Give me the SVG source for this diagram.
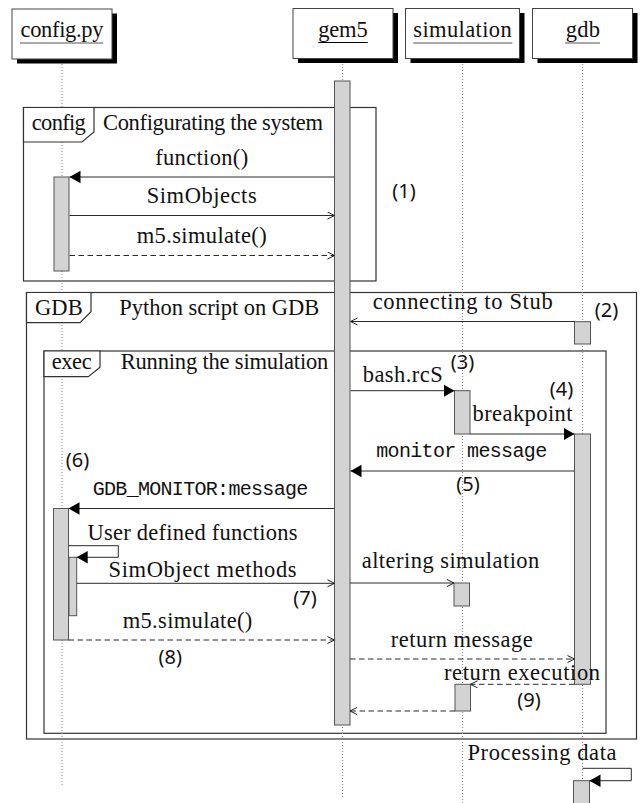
<svg xmlns="http://www.w3.org/2000/svg" width="642" height="803" viewBox="0 0 642 803">
<style>
.t{font-family:"Liberation Serif","Times New Roman",serif;font-size:22.5px;fill:#111;text-anchor:middle}
.ts{font-family:"Liberation Serif","Times New Roman",serif;font-size:22.5px;fill:#111;text-anchor:start}
.m{font-family:"Liberation Mono","Courier New",monospace;font-size:20px;fill:#111;text-anchor:middle}
.n{font-family:"Noto Sans","DejaVu Sans",sans-serif;font-size:20px;fill:#111;text-anchor:middle}
.ln{stroke:#2a2a2a;stroke-width:1;fill:none}
.dl{stroke-dasharray:5.5 3.5}
.bar{fill:#d3d3d3;stroke:#555;stroke-width:1}
.life{stroke:#888;stroke-width:1;stroke-dasharray:1 2;fill:none}
.frame{fill:none;stroke:#333;stroke-width:1.2}
.tag{fill:#fff;stroke:#333;stroke-width:1.2}
.box{fill:#fff;stroke:#444;stroke-width:1}
.sh{fill:#000}
</style>
<defs>
<marker id="fa" markerUnits="userSpaceOnUse" markerWidth="13" markerHeight="14" refX="11" refY="6.5" orient="auto"><path d="M0,0.25 L11,6.5 L0,12.75 z" fill="#000"/></marker>
<marker id="oa" markerUnits="userSpaceOnUse" markerWidth="10" markerHeight="10" refX="7.5" refY="4" orient="auto"><path d="M0.5,0.5 L7.5,4 L0.5,7.5" fill="none" stroke="#222" stroke-width="1"/></marker>
</defs>
<rect width="642" height="803" fill="#fff"/>

<g id="frames">
<g id="frame-config">
<rect class="frame" x="23.5" y="107.5" width="352.5" height="173.5"/>
</g>
<g id="frame-gdb">
<rect class="frame" x="26.5" y="292.5" width="610" height="446.5"/>
</g>
<g id="frame-exec">
<rect class="frame" x="44" y="351" width="562" height="382.3"/>
</g>
</g>

<g id="lifelines">
<line class="life" x1="62" y1="64" x2="62" y2="787"/>
<line class="life" x1="342.5" y1="64" x2="342.5" y2="798"/>
<line class="life" x1="462.5" y1="64" x2="462.5" y2="803"/>
<line class="life" x1="582.5" y1="64" x2="582.5" y2="803"/>
</g>

<g id="node-config">
<rect class="sh" x="17" y="13.5" width="100" height="50"/>
<rect class="box" x="12" y="9" width="100" height="50"/>
<text class="t" x="62" y="37" textLength="83">config.py</text>
<line x1="20" y1="43" x2="103" y2="43" stroke="#555" stroke-width="1"/>
<rect class="bar" x="54" y="177" width="15" height="94"/>
<rect class="bar" x="53.5" y="508.5" width="15" height="131.5"/>
<rect class="bar" x="69" y="557.3" width="7.7" height="58.4"/>
</g>

<g id="node-gem5">
<rect class="sh" x="298" y="13" width="100" height="50"/>
<rect class="box" x="293" y="8.5" width="100" height="50"/>
<text class="t" x="343" y="37.3" textLength="49.3">gem5</text>
<line x1="318.3" y1="42.5" x2="367.7" y2="42.5" stroke="#000" stroke-width="1"/>
<rect class="bar" x="334.5" y="81" width="15.5" height="644"/>
</g>

<g id="node-simulation">
<rect class="sh" x="410.5" y="13" width="114" height="50"/>
<rect class="box" x="405.5" y="8.5" width="114" height="50"/>
<text class="t" x="462.5" y="37.3" textLength="98.3">simulation</text>
<line x1="413.3" y1="43" x2="512.3" y2="43" stroke="#555" stroke-width="1"/>
<rect class="bar" x="454.5" y="390.7" width="15.5" height="43.3"/>
<rect class="bar" x="454" y="583" width="15.5" height="23"/>
<rect class="bar" x="455" y="684.3" width="15.5" height="26.7"/>
</g>

<g id="node-gdb">
<rect class="sh" x="537.5" y="13" width="100" height="50"/>
<rect class="box" x="532.5" y="8.5" width="100" height="50"/>
<text class="t" x="582.8" y="37.3" textLength="34.3">gdb</text>
<line x1="565" y1="43" x2="600" y2="43" stroke="#555" stroke-width="1"/>
<rect class="bar" x="574.5" y="321.7" width="16" height="22.3"/>
<rect class="bar" x="574.5" y="434" width="16" height="250.3"/>
<rect class="bar" x="573.5" y="780.7" width="16" height="30"/>
</g>

<g id="frame-tags">
<g id="tag-config">
<path class="tag" d="M23.5,107.5 H94 V132 L82,142 H23.5 Z"/>
<text class="t" x="58.8" y="130" textLength="54">config</text>
<text class="ts" x="103" y="130" textLength="220">Configurating the system</text>
</g>
<g id="tag-gdb">
<path class="tag" d="M26.5,292.5 H91 V311.7 L80,322.7 H26.5 Z"/>
<text class="t" x="58.8" y="315" textLength="47.7">GDB</text>
<text class="ts" x="119.3" y="315" textLength="200">Python script on GDB</text>
</g>
<g id="tag-exec">
<path class="tag" d="M44,351 H100 V367.3 L88.3,376.7 H44 Z"/>
<text class="t" x="71.7" y="369" textLength="40">exec</text>
<text class="ts" x="120.7" y="369" textLength="207.6">Running the simulation</text>
</g>
</g>

<g id="connectors">
<line class="ln" x1="334.5" y1="177" x2="69.5" y2="177" marker-end="url(#fa)"/>
<text class="t" x="201.7" y="165" textLength="93">function()</text>
<line class="ln" x1="69.5" y1="215.5" x2="334.5" y2="215.5" marker-end="url(#oa)"/>
<text class="t" x="201.7" y="202.7" textLength="110">SimObjects</text>
<line class="ln dl" x1="69.5" y1="255.5" x2="334.5" y2="255.5" marker-end="url(#oa)"/>
<text class="t" x="201.7" y="243" textLength="130">m5.simulate()</text>

<line class="ln" x1="574.5" y1="321.5" x2="350.5" y2="321.5" marker-end="url(#oa)"/>
<text class="t" x="462.7" y="309.3" textLength="180">connecting to Stub</text>
<line class="ln" x1="350.5" y1="390.7" x2="454.5" y2="390.7" marker-end="url(#fa)"/>
<text class="t" x="402.7" y="381.7" textLength="80">bash.rcS</text>
<line class="ln" x1="470" y1="434" x2="574.5" y2="434" marker-end="url(#fa)"/>
<text class="t" x="522.5" y="421" textLength="100">breakpoint</text>
<line class="ln" x1="574.5" y1="471" x2="350.5" y2="471" marker-end="url(#fa)"/>
<text class="m" x="461.7" y="456.7" textLength="171">monitor message</text>
<line class="ln" x1="334.5" y1="508.5" x2="68.5" y2="508.5" marker-end="url(#fa)"/>
<text class="m" x="200.5" y="495" textLength="215.6">GDB_MONITOR:message</text>
<polyline class="ln" points="68.5,545.7 118.3,545.7 118.3,557.3 76.7,557.3" marker-end="url(#fa)"/>
<text class="t" x="192.5" y="540" textLength="210">User defined functions</text>
<line class="ln" x1="76.7" y1="583.3" x2="334.5" y2="583.3" marker-end="url(#oa)"/>
<text class="t" x="202.5" y="576.7" textLength="188">SimObject methods</text>
<line class="ln" x1="350" y1="583" x2="454" y2="583" marker-end="url(#oa)"/>
<text class="t" x="450.5" y="568.3" textLength="177.6">altering simulation</text>
<line class="ln dl" x1="68.5" y1="640" x2="334.5" y2="640" marker-end="url(#oa)"/>
<text class="t" x="187.5" y="628.3" textLength="129.6">m5.simulate()</text>
<line class="ln dl" x1="350" y1="659" x2="574.5" y2="659" marker-end="url(#oa)"/>
<text class="t" x="461.7" y="646.7" textLength="142">return message</text>
<line class="ln dl" x1="574.5" y1="684.3" x2="470.5" y2="684.3" marker-end="url(#oa)"/>
<text class="t" x="522" y="680" textLength="156">return execution</text>
<line class="ln dl" x1="455" y1="711" x2="350" y2="711" marker-end="url(#oa)"/>
<polyline class="ln" points="582.5,768.3 631.3,768.3 631.3,780.7 589.5,780.7" marker-end="url(#fa)"/>
<text class="t" x="542" y="760" textLength="149">Processing data</text>
</g>

<g id="step-labels">
<text class="n" x="404" y="198.3">(1)</text>
<text class="n" x="606.5" y="316.6">(2)</text>
<text class="n" x="462.5" y="368.6">(3)</text>
<text class="n" x="561.5" y="396">(4)</text>
<text class="n" x="468" y="490.6">(5)</text>
<text class="n" x="77.5" y="467.3">(6)</text>
<text class="n" x="305" y="605">(7)</text>
<text class="n" x="170.3" y="663.6">(8)</text>
<text class="n" x="529" y="706.6">(9)</text>
</g>
</svg>
